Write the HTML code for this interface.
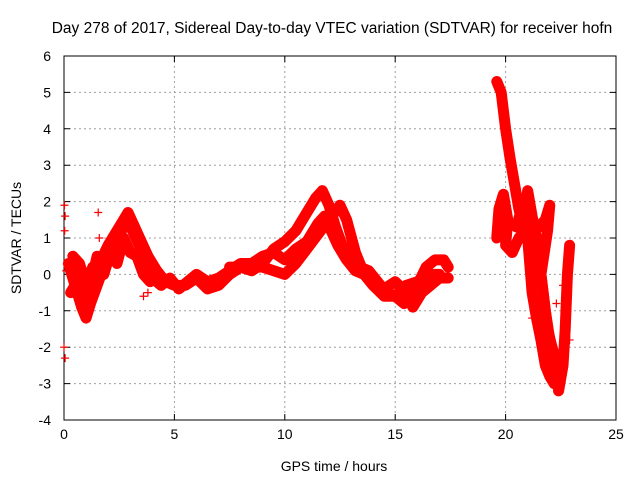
<!DOCTYPE html>
<html><head><meta charset="utf-8"><style>
body{margin:0;background:#fff}
svg{display:block;font-family:"Liberation Sans",sans-serif}
</style></head><body>
<svg id="chart" width="640" height="480">
<rect width="640" height="480" fill="#fff"/>
<text x="332" y="33" font-size="15.5" text-anchor="middle">Day 278 of 2017, Sidereal Day-to-day VTEC variation (SDTVAR) for receiver hofn</text>
<g id="grid"></g>
<g id="axes"></g>
<g id="marks"></g>
<text x="334" y="471" font-size="14" text-anchor="middle">GPS time / hours</text>
<text transform="translate(21,238) rotate(-90)" font-size="14" text-anchor="middle">SDTVAR / TECUs</text>
</svg>
<script>
const xTicks=[0,5,10,15,20,25];
const yTicks=[-4,-3,-2,-1,0,1,2,3,4,5,6];
const trackA=[[0.2,0.3],[0.5,-0.3],[0.8,-0.9],[1.0,-1.2],[1.2,-0.8],[1.5,-0.3],[1.8,0.2],[2.0,0.5],[2.3,0.8],[2.6,1.2],[2.9,1.5],[3.1,1.2],[3.4,0.8],[3.7,0.3],[4.0,-0.1],[4.4,-0.3],[4.8,-0.1],[5.2,-0.4],[5.6,-0.2],[6.0,0.0],[6.5,-0.2],[7.0,-0.1],[7.5,0.1],[8.0,0.3],[8.5,0.3],[9.0,0.5],[9.5,0.6],[10.0,0.4],[10.5,0.7],[11.0,0.9],[11.5,1.4],[11.8,1.6],[12.1,1.2],[12.4,0.8],[12.8,0.4],[13.2,0.1],[13.6,0.0],[14.0,-0.3],[14.5,-0.4],[15.0,-0.2],[15.5,-0.5],[15.8,-0.9],[16.2,-0.5],[16.6,-0.3],[17.0,-0.1],[17.4,-0.1]];
const trackB=[[0.4,0.5],[0.7,0.3],[1.0,-0.3],[1.3,0.2],[1.6,0.3],[2.0,0.8],[2.4,1.2],[2.7,1.5],[2.9,1.7],[3.2,1.3],[3.5,0.9],[3.8,0.5],[4.2,0.1],[4.6,-0.2],[5.0,-0.3],[5.5,-0.3],[6.0,-0.1],[6.5,-0.4],[7.0,-0.3],[7.5,0.0],[8.0,0.2],[8.5,0.1],[9.0,0.3],[9.5,0.7],[10.0,0.9],[10.5,1.2],[11.0,1.7],[11.4,2.1],[11.7,2.3],[12.0,1.9],[12.3,1.3],[12.6,0.8],[13.0,0.5],[13.4,0.2],[13.8,0.1],[14.2,-0.2],[14.6,-0.5],[15.0,-0.6],[15.4,-0.8],[15.7,-0.7],[16.0,-0.3],[16.4,0.2],[16.8,0.4],[17.2,0.4],[17.4,0.2]];
const trackC=[[7.5,0.2],[8.5,0.2],[9.0,0.2],[9.5,0.1],[10.0,0.0],[10.5,0.3],[11.0,0.7],[11.5,1.1],[12.0,1.5],[12.5,1.9],[12.8,1.5],[13.2,0.6],[13.6,0.0],[14.0,-0.3],[14.5,-0.6],[15.0,-0.6],[15.5,-0.3],[16.0,-0.2],[16.5,0.0],[17.0,0.0]];
const trackD=[[19.6,5.3],[19.8,5.0],[19.9,4.5],[20.0,4.0],[20.2,3.2],[20.4,2.5],[20.6,1.8],[20.8,1.3],[21.0,2.3],[21.2,1.6],[21.4,1.0],[21.5,0.5],[21.7,-0.5],[21.9,-1.5],[22.1,-2.0],[22.3,-2.5],[22.4,-3.2],[22.6,-2.5],[22.7,-1.5],[22.8,0.0],[22.9,0.8]];
const trackE=[[19.6,1.0],[19.7,1.8],[19.9,2.2],[20.1,1.5],[20.0,0.8],[20.3,0.6],[20.6,1.0],[20.9,1.2],[21.2,1.1],[21.5,1.3],[21.8,1.5],[22.0,1.9],[21.9,1.2],[21.6,0.0],[21.8,-1.0],[22.0,-1.8],[22.2,-2.2]];
const trackF=[[0.3,-0.5],[0.6,-0.2],[0.9,-1.0],[1.2,-0.3],[1.5,0.5],[1.8,0.0],[2.1,0.6],[2.4,0.3],[2.7,1.0],[3.0,0.6],[3.3,0.5],[3.6,0.0],[3.9,-0.2]];
const trackG=[[20.5,1.3],[20.8,2.0],[21.0,1.0],[21.2,-0.5],[21.4,-1.2],[21.6,-1.8],[21.8,-2.5],[22.0,-2.8],[22.2,-3.0]];
const scatter=[[0.02,1.9],[0.05,1.6],[0.03,1.2],[0.0,-2.0],[0.05,-2.3],[0.1,0.1],[1.55,1.7],[1.6,1.0],[2.4,1.0],[3.6,-0.6],[3.8,-0.5],[22.9,-1.8],[22.8,-1.0],[22.6,-0.3],[21.2,-1.2],[22.3,-0.8]];
const tracks=[trackA,trackB,trackC,trackD,trackE,trackF,trackG];
const X0=64,X1=616,Y0=420,Y1=56;
const sx=v=>X0+(v-0)/(25-0)*(X1-X0);
const sy=v=>Y0-(v+4)/(10)*(Y0-Y1);
const NS="http://www.w3.org/2000/svg";
function mk(tag,attrs,parent){const e=document.createElementNS(NS,tag);for(const k in attrs)e.setAttribute(k,attrs[k]);parent.appendChild(e);return e;}
const grid=document.getElementById('grid'),axes=document.getElementById('axes'),marks=document.getElementById('marks');
xTicks.forEach(t=>{
 if(t>0&&t<25){const l=mk('line',{x1:sx(t),x2:sx(t),y1:Y1,y2:Y0,stroke:'#a0a0a0','stroke-dasharray':'2,3'},grid);
 
 }
 const tk=mk('path',{d:`M${sx(t)},${Y0}v-6M${sx(t)},${Y1}v6`,stroke:'#000'},axes);
 
 
 const tx=mk('text',{x:sx(t),y:Y0+19,'font-size':14,'text-anchor':'middle'},axes);tx.textContent=t;
 
 
});
yTicks.forEach(t=>{
 if(t>-4&&t<6){const l=mk('line',{x1:X0,x2:X1,y1:sy(t),y2:sy(t),stroke:'#a0a0a0','stroke-dasharray':'2,3'},grid);
 
 }
 const tk=mk('path',{d:`M${X0},${sy(t)}h6M${X1},${sy(t)}h-6`,stroke:'#000'},axes);
 
 
 const tx=mk('text',{x:X0-13,y:sy(t)+5,'font-size':14,'text-anchor':'end'},axes);tx.textContent=t;
 
 
});
const frame=mk('rect',{x:X0,y:Y1,width:X1-X0,height:Y0-Y1,fill:'none',stroke:'#000'},axes);


tracks.forEach(tr=>{
 const pl=mk('polyline',{points:tr.map(p=>sx(p[0])+','+sy(p[1])).join(' '),fill:'none',stroke:'#f00','stroke-width':11,'stroke-linejoin':'round','stroke-linecap':'round'},marks);
 
 
});
tracks.concat([scatter]).forEach(tr=>tr.forEach(p=>{
 const m=mk('path',{d:`M${sx(p[0])-4},${sy(p[1])}h8M${sx(p[0])},${sy(p[1])-4}v8`,stroke:'#f00','stroke-width':1.2},marks);
 
 
}));
</script>
</body></html>
